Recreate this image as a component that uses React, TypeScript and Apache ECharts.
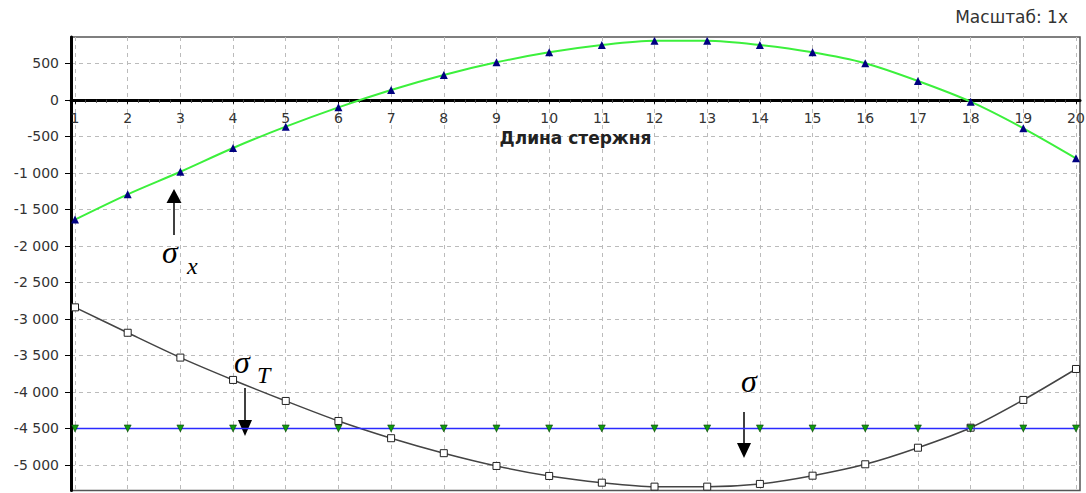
import React, { useEffect, useRef } from "react";
import * as echarts from "echarts";

const positions = [1, 2, 3, 4, 5, 6, 7, 8, 9, 10, 11, 12, 13, 14, 15, 16, 17, 18, 19, 20];
const sigmaX = [-1640, -1294, -985, -660, -368, -103, 134, 340, 513, 650, 750, 809, 809, 750, 650, 500, 257, -26, -390, -801];
const sigmaT = [-2842, -3190, -3530, -3836, -4124, -4398, -4634, -4839, -5014, -5151, -5243, -5297, -5297, -5260, -5147, -4991, -4764, -4490, -4110, -3686];
const sigmaAllowed = [-4500, -4500, -4500, -4500, -4500, -4500, -4500, -4500, -4500, -4500, -4500, -4500, -4500, -4500, -4500, -4500, -4500, -4500, -4500, -4500];
const yTicks = [-5000, -4500, -4000, -3500, -3000, -2500, -2000, -1500, -1000, -500, 0, 500];
const minorXTicks: number[] = [];
for (let i = 1; i < 20; i++) for (let k = 1; k < 5; k++) minorXTicks.push(i + k * 0.2);

const Y_MIN = -5350;
const Y_MAX = 860;

const fmt = (v: number) => {
  const a = Math.abs(Math.round(v));
  const s = a >= 1000 ? Math.floor(a / 1000) + " " + String(a % 1000).padStart(3, "0") : String(a);
  return (v < 0 ? "-" : "") + s;
};

const FONT = "DejaVu Sans";

export default function App() {
  const ref = useRef<HTMLDivElement>(null);
  useEffect(() => {
    document.body.style.margin = "0";
    const chart = echarts.init(ref.current!, undefined, { renderer: "svg" });
    const pair = (arr: number[]) => positions.map((p, i) => [p, arr[i]]);
    const xBase = {
      type: "value",
      min: 0.924,
      max: 20.076,
      position: "bottom",
    };
    const build = (offset: number) => ({
      animation: false,
      backgroundColor: "#fff",
      grid: {
        left: 71, right: 6, top: 37, bottom: 2.5,
        outerBoundsMode: "none", containLabel: false,
        show: true, borderColor: "#555", borderWidth: 1.5, backgroundColor: "transparent",
      },
      xAxis: [
        {
          ...xBase,
          offset,
          name: "Длина стержня",
          nameLocation: "middle",
          nameGap: 30,
          nameTextStyle: { fontFamily: FONT, fontSize: 17, fontWeight: "bold", color: "#222" },
          axisLine: { onZero: false, lineStyle: { color: "#000", width: 3 } },
          axisTick: { show: true, customValues: positions, length: 4, lineStyle: { color: "#000" } },
          axisLabel: { customValues: positions, margin: 11, fontFamily: FONT, fontSize: 14, color: "#333" },
          splitLine: { show: true, lineStyle: { color: "#bbb", type: [4, 4], width: 1 } },
          z: 3,
        },
        {
          ...xBase,
          offset,
          axisLine: { show: false, onZero: false },
          axisTick: { show: true, customValues: minorXTicks, length: 3, lineStyle: { color: "#444" } },
          axisLabel: { show: false },
          splitLine: { show: false },
          z: 3,
        },
      ],
      yAxis: {
        type: "value",
        min: Y_MIN,
        max: Y_MAX,
        axisLine: { show: true, onZero: false, lineStyle: { color: "#000", width: 3 } },
        axisTick: { show: true, customValues: yTicks, length: 6, lineStyle: { color: "#000" } },
        axisLabel: { customValues: yTicks, margin: 12, fontFamily: FONT, fontSize: 14, color: "#333", formatter: fmt },
        splitLine: { show: true, lineStyle: { color: "#bbb", type: [4, 4], width: 1 } },
      },
      series: [
        {
          name: "σT",
          type: "line",
          data: pair(sigmaT),
          smooth: 0.3,
          symbol: "rect",
          symbolSize: 7,
          lineStyle: { color: "#444", width: 1.5 },
          itemStyle: { color: "#fff", borderColor: "#222", borderWidth: 1 },
          z: 3,
        },
        {
          name: "σ",
          type: "line",
          data: pair(sigmaAllowed),
          symbol: "triangle",
          symbolRotate: 180,
          symbolSize: 7,
          lineStyle: { color: "#2a2aff", width: 1.5 },
          itemStyle: { color: "#119911", borderColor: "#003300", borderWidth: 0.5 },
          z: 4,
        },
        {
          name: "σx",
          type: "line",
          data: pair(sigmaX),
          smooth: 0.3,
          symbol: "triangle",
          symbolSize: 8,
          lineStyle: { color: "#3cf03c", width: 2 },
          itemStyle: { color: "#000080" },
          z: 5,
        },
      ],
      graphic: [
        { type: "text", right: 18, top: 8, style: { text: "Масштаб: 1x", fontFamily: FONT, fontSize: 17, fill: "#333" } },
        // sigma x
        { type: "text", x: 162, y: 252, style: { text: "σ", font: "italic 32px 'Liberation Serif'", fill: "#000", verticalAlign: "middle" } },
        { type: "text", x: 187, y: 266, style: { text: "x", font: "italic 24px 'Liberation Serif'", fill: "#000", verticalAlign: "middle" } },
        { type: "line", shape: { x1: 174, y1: 202, x2: 174, y2: 235 }, style: { stroke: "#000", lineWidth: 1.5 } },
        { type: "polygon", shape: { points: [[166.5, 203], [181.5, 203], [174, 189]] }, style: { fill: "#000" } },
        // sigma T
        { type: "text", x: 234, y: 362, style: { text: "σ", font: "italic 32px 'Liberation Serif'", fill: "#000", verticalAlign: "middle" } },
        { type: "text", x: 257, y: 375, style: { text: "T", font: "italic 24px 'Liberation Serif'", fill: "#000", verticalAlign: "middle" } },
        { type: "line", shape: { x1: 245, y1: 388, x2: 245, y2: 421 }, style: { stroke: "#000", lineWidth: 1.5 } },
        { type: "polygon", shape: { points: [[238, 420], [252, 420], [245, 436]] }, style: { fill: "#000" } },
        // sigma
        { type: "text", x: 741, y: 381, style: { text: "σ", font: "italic 32px 'Liberation Serif'", fill: "#000", verticalAlign: "middle" } },
        { type: "line", shape: { x1: 744, y1: 412, x2: 744, y2: 444 }, style: { stroke: "#000", lineWidth: 1.5 } },
        { type: "polygon", shape: { points: [[737, 443], [751, 443], [744, 458]] }, style: { fill: "#000" } },
      ],
    });
    chart.setOption(build(0) as any);
    const zeroY = chart.convertToPixel({ yAxisIndex: 0 }, 0) as number;
    const bottomY = chart.convertToPixel({ yAxisIndex: 0 }, Y_MIN) as number;
    chart.setOption(build(zeroY - bottomY) as any, true);
    return () => chart.dispose();
  }, []);
  return <div ref={ref} style={{ position: "fixed", left: 0, top: 0, width: 1086, height: 493 }} />;
}
